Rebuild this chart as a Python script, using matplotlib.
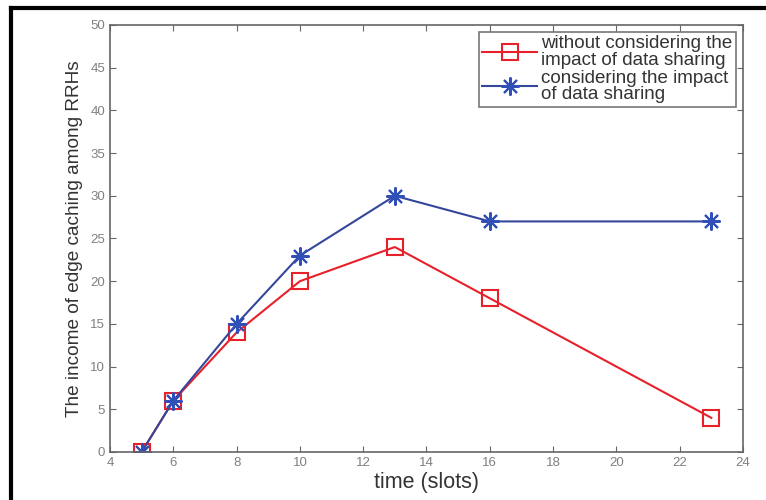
import matplotlib
matplotlib.use("Agg")
import matplotlib.pyplot as plt
from matplotlib.lines import Line2D

plt.rcParams['font.family'] = ['Liberation Sans', 'DejaVu Sans']

# data
slots = [5, 6, 8, 10, 13, 16, 23]
income_no_share = [0, 6, 14, 20, 24, 18, 4]
income_share = [0, 6, 15, 23, 30, 27, 27]

labels = ["without considering the\nimpact of data sharing",
          "considering the impact\nof data sharing"]

fig = plt.figure(figsize=(7.66, 5.0), dpi=100)
ax = fig.add_axes([110 / 766, 1 - 452 / 500, 633 / 766, 427 / 500])

ax.plot(slots, income_no_share, color='#e8202a', lw=1.5, marker='s', ms=12,
        mfc='none', mec='#e8202a', mew=1.5, label=labels[0])
ax.plot(slots, income_share, color='#34479a', lw=1.5, marker=(8, 2, 0), ms=13,
        mec='#3050b8', mew=1.5, label=labels[1])

ax.set_xlim(4, 24)
ax.set_ylim(0, 50)
ax.set_xticks(range(4, 25, 2))
ax.set_yticks(range(0, 51, 5))
ax.tick_params(direction='in', top=True, right=True, length=4, width=0.8,
               labelsize=9.5, labelcolor='#808080', color='#666666')
for s in ax.spines.values():
    s.set_color('#666666')
    s.set_linewidth(1.2)

ax.set_xlabel("time (slots)", fontsize=15.5, color='#333333', labelpad=2)
ax.set_ylabel("The income of edge caching among RRHs", fontsize=13.7,
              color='#333333', labelpad=5)

leg = ax.legend(loc='upper right', fontsize=13.5, frameon=True, fancybox=False,
                borderaxespad=0.35, handlelength=2.9, labelspacing=0.05,
                borderpad=0.2, handletextpad=0.25)
leg.get_frame().set_edgecolor('#555555')
leg.get_frame().set_linewidth(1.2)
for t in leg.get_texts():
    t.set_color('#333333')
    t.set_linespacing(0.95)

# outer frame (left and top edges visible in reference)
fig.add_artist(Line2D([11 / 766, 11 / 766], [0, 1 - 8 / 500], transform=fig.transFigure,
                      color='black', lw=3))
fig.add_artist(Line2D([11 / 766, 1], [1 - 8 / 500, 1 - 8 / 500], transform=fig.transFigure,
                      color='black', lw=3))

fig.savefig("out.png", dpi=100)
